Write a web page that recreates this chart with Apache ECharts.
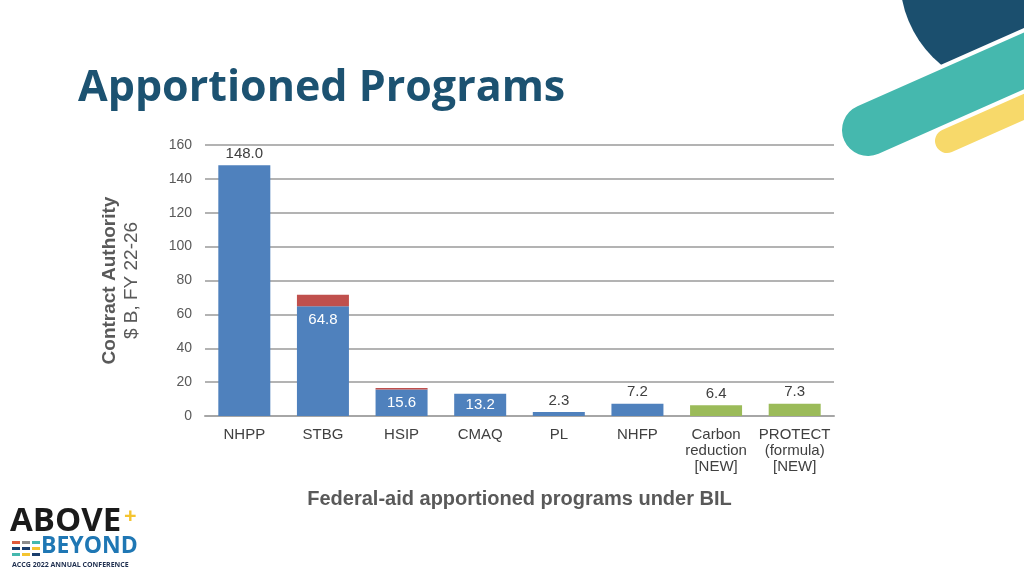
<!DOCTYPE html>
<html><head><meta charset="utf-8">
<script src="https://cdn.jsdelivr.net/npm/echarts@6/dist/echarts.min.js"></script>
<style>html,body{margin:0;padding:0;background:#fff}#c{width:1024px;height:576px}</style>
</head><body><div id="c"></div>
<script>
const categories = ['NHPP','STBG','HSIP','CMAQ','PL','NHFP','Carbon\nreduction\n[NEW]','PROTECT\n(formula)\n[NEW]'];
const baseValues = [148.0, 64.8, 15.6, 13.2, 2.3, 7.2, null, null];
const extraValues = [null, 6.8, 0.9, null, null, null, null, null];
const newValues = [null, null, null, null, null, null, 6.4, 7.3];
const yMin = 0, yMax = 160, yStep = 20;

const insideIdx = {1:'insideTop', 2:'inside', 3:'inside'};
const lblFont = 'Liberation Sans';

const chart = echarts.init(document.getElementById('c'));
const baseData = baseValues.map((v,i)=>{
  if (v === null) return '-';
  const pos = insideIdx[i];
  return {value:v, label:{show:true, position: pos || 'top', distance: pos==='insideTop'?6:4,
    color: pos ? '#ffffff' : '#404040', fontSize:15, fontFamily:lblFont,
    formatter: p => p.value.toFixed(1)}};
});
const newData = newValues.map(v => v===null ? '-' : {value:v, label:{show:true, position:'top', distance:4,
    color:'#404040', fontSize:15, fontFamily:lblFont, formatter: p => p.value.toFixed(1)}});

chart.setOption({
  animation:false,
  backgroundColor:'#ffffff',
  grid:{left:205, right:190, top:145, bottom:160, containLabel:false},
  xAxis:{type:'category', data:categories,
    axisLine:{lineStyle:{color:'#a6a6a6', width:2}}, axisTick:{show:false},
    axisLabel:{color:'#404040', fontSize:15, fontFamily:lblFont, lineHeight:16, margin:11, interval:0},
    name:'Federal-aid apportioned programs under BIL', nameLocation:'middle', nameGap:73,
    nameTextStyle:{color:'#595959', fontSize:20, fontWeight:'bold', fontFamily:lblFont}},
  yAxis:{type:'value', min:yMin, max:yMax, interval:yStep,
    axisLine:{show:false}, axisTick:{show:false},
    splitLine:{lineStyle:{color:'#b3b3b3', width:2}},
    axisLabel:{color:'#595959', fontSize:14, fontFamily:lblFont, margin:13},
    name:'{a|Contract Authority}\n{b|$ B, FY 22-26}', nameLocation:'middle', nameRotate:90, nameGap:62,
    nameTextStyle:{rich:{
      a:{color:'#595959', fontSize:19, fontWeight:'bold', fontFamily:'Liberation Sans', lineHeight:22},
      b:{color:'#595959', fontSize:19, fontFamily:'Liberation Sans', lineHeight:22}}}},
  series:[
    {type:'bar', stack:'t', data:baseData, barWidth:52, itemStyle:{color:'#4f81bd'}},
    {type:'bar', stack:'t', data:extraValues.map(v=>v===null?'-':v), barWidth:52, itemStyle:{color:'#c0504d'}},
    {type:'bar', stack:'t', data:newData, barWidth:52, itemStyle:{color:'#9bbb59'}}
  ],
  graphic:[
    {type:'circle', shape:{cx:1012, cy:-22, r:112}, style:{fill:'#1b4f6e'}, z:1},
    {type:'line', shape:{x1:868, y1:130, x2:1080, y2:36}, style:{stroke:'#ffffff', lineWidth:60, lineCap:'round'}, z:2},
    {type:'line', shape:{x1:868, y1:130, x2:1080, y2:36}, style:{stroke:'#45b8ae', lineWidth:52, lineCap:'round'}, z:3},
    {type:'line', shape:{x1:947, y1:141, x2:1060, y2:91}, style:{stroke:'#f7d96a', lineWidth:24, lineCap:'round'}, z:3},
    {type:'text', left:78, top:67, style:{text:'Apportioned Programs', fill:'#1c5271', font:'bold 43px "Open Sans", sans-serif'}},
    {type:'text', left:10, top:505, style:{text:'ABOVE', fill:'#1a1a1a', font:'bold 33px "Open Sans", sans-serif'}},
    {type:'text', left:124, top:506, style:{text:'+', fill:'#f4c430', font:'bold 22px "Open Sans", sans-serif'}},
    {type:'text', left:41, top:535, style:{text:'BEYOND', fill:'#1f77b4', font:'bold 23px "Open Sans", sans-serif'}},
    {type:'text', left:12, top:561, style:{text:'ACCG 2022 ANNUAL CONFERENCE', fill:'#1f2f4f', font:'bold 7px "Open Sans", sans-serif'}},
    {type:'rect', shape:{x:12,y:541,width:8,height:3}, style:{fill:'#e05a3a'}},
    {type:'rect', shape:{x:22,y:541,width:8,height:3}, style:{fill:'#8c8c8c'}},
    {type:'rect', shape:{x:32,y:541,width:8,height:3}, style:{fill:'#45b8ae'}},
    {type:'rect', shape:{x:12,y:547,width:8,height:3}, style:{fill:'#1b3f6e'}},
    {type:'rect', shape:{x:22,y:547,width:8,height:3}, style:{fill:'#1b3f6e'}},
    {type:'rect', shape:{x:32,y:547,width:8,height:3}, style:{fill:'#f4c430'}},
    {type:'rect', shape:{x:12,y:553,width:8,height:3}, style:{fill:'#45b8ae'}},
    {type:'rect', shape:{x:22,y:553,width:8,height:3}, style:{fill:'#f4c430'}},
    {type:'rect', shape:{x:32,y:553,width:8,height:3}, style:{fill:'#1b3f6e'}}
  ]
});
</script></body></html>
